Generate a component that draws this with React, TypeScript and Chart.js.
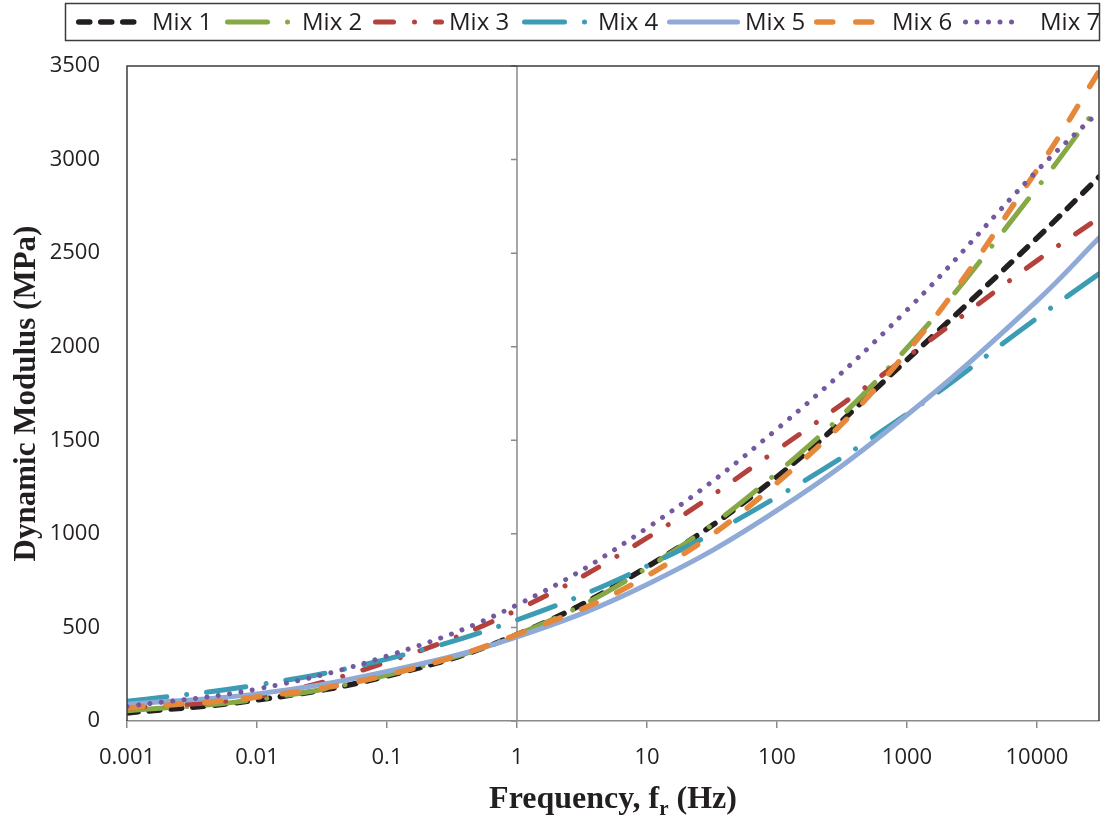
import React, { useEffect, useRef } from 'react';
import { Chart, registerables } from 'chart.js';

Chart.register(...registerables);

// ---- Data ----
const frequencies = [0.001, 0.01, 0.1, 1, 10, 100, 1000, 10000, 30000];
const mix1 = [43, 112, 240, 462, 823, 1305, 1930, 2581, 2907];
const mix2 = [55, 115, 246, 462, 818, 1325, 1993, 2848, 3292];
const mix3 = [69, 130, 315, 593, 978, 1448, 1945, 2460, 2688];
const mix4 = [105, 192, 331, 540, 828, 1197, 1640, 2153, 2389];
const mix5 = [90, 145, 265, 450, 730, 1125, 1635, 2245, 2581];
const mix6 = [69, 128, 246, 462, 775, 1272, 1972, 2944, 3470];
const mix7 = [78, 171, 347, 620, 1031, 1560, 2196, 2940, 3256];
const seriesNames = ['Mix 1', 'Mix 2', 'Mix 3', 'Mix 4', 'Mix 5', 'Mix 6', 'Mix 7'];
const xTickValues = [0.001, 0.01, 0.1, 1, 10, 100, 1000, 10000];
const xTickLabels = ['0.001', '0.01', '0.1', '1', '10', '100', '1000', '10000'];
const yMin = 0;
const yMax = 3500;
const yStep = 500;
const xMin = 0.001;
const xMax = 30000;
const yTitle = 'Dynamic Modulus (MPa)';
const xTitleMain = 'Frequency, f';
const xTitleSub = 'r';
const xTitleEnd = ' (Hz)';

// ---- Styles ----
const seriesValues = [mix1, mix2, mix3, mix4, mix5, mix6, mix7];
const colors = ['#231f20', '#86a845', '#b5413d', '#3b9cb3', '#8faad6', '#e5883a', '#7458a0'];
const dashes: number[][] = [
  [11, 11],
  [40, 20, 0.001, 20],
  [18, 21, 0.001, 21],
  [40, 20, 0.001, 20],
  [],
  [16, 23],
  [0.001, 11.5],
];
const widths = [5.5, 5, 5, 5, 5, 5.5, 5];

const TEXT = '#231f20';
const AXIS_GRAY = '#8a8a8a';
const BORDER = '#3c3c3c';

const decorPlugin = {
  id: 'decor',
  beforeDatasetsDraw(chart: any) {
    const { ctx, chartArea, scales } = chart;
    const x1 = scales.x.getPixelForValue(1);
    ctx.save();
    ctx.strokeStyle = AXIS_GRAY;
    ctx.lineWidth = 1.5;
    ctx.beginPath();
    ctx.moveTo(x1, chartArea.top);
    ctx.lineTo(x1, chartArea.bottom);
    for (let v = yMin; v <= yMax; v += yStep) {
      const y = scales.y.getPixelForValue(v);
      ctx.moveTo(x1 - 6, y);
      ctx.lineTo(x1, y);
    }
    ctx.stroke();
    ctx.restore();
  },
  afterDraw(chart: any) {
    const { ctx, chartArea } = chart;
    ctx.save();
    // plot border (top, left, right)
    ctx.strokeStyle = BORDER;
    ctx.lineWidth = 1.5;
    ctx.beginPath();
    ctx.moveTo(chartArea.left, chartArea.bottom);
    ctx.lineTo(chartArea.left, chartArea.top);
    ctx.lineTo(chartArea.right, chartArea.top);
    ctx.lineTo(chartArea.right, chartArea.bottom);
    ctx.stroke();

    // legend box
    ctx.strokeStyle = BORDER;
    ctx.lineWidth = 1.5;
    ctx.strokeRect(65.5, 3.5, 1034, 37);
    const sampleStart = [76, 225, 373, 522, 667, 814, 963];
    const sampleEnd = [140, 295, 444, 592, 740, 878, 1024];
    const textX = [152, 302, 449, 598, 745, 892, 1040];
    const ly = 22;
    seriesNames.forEach((name, i) => {
      ctx.save();
      ctx.beginPath();
      ctx.rect(sampleStart[i] - 1, 8, sampleEnd[i] - sampleStart[i] + 2, 28);
      ctx.clip();
      ctx.strokeStyle = colors[i];
      ctx.lineWidth = widths[i];
      ctx.lineCap = 'round';
      ctx.setLineDash(dashes[i]);
      ctx.beginPath();
      ctx.moveTo(sampleStart[i] + widths[i] / 2, ly);
      ctx.lineTo(sampleEnd[i] - widths[i] / 2, ly);
      ctx.stroke();
      ctx.restore();
      ctx.fillStyle = TEXT;
      ctx.font = '24px "Open Sans"';
      ctx.textAlign = 'left';
      ctx.textBaseline = 'middle';
      ctx.fillText(name, textX[i], ly + 1);
    });

    // y title
    const cy = (chartArea.top + chartArea.bottom) / 2;
    ctx.save();
    ctx.translate(35, cy);
    ctx.rotate(-Math.PI / 2);
    ctx.font = 'bold 31px "Liberation Serif"';
    ctx.fillStyle = TEXT;
    ctx.textAlign = 'center';
    ctx.textBaseline = 'alphabetic';
    ctx.fillText(yTitle, 0, 0);
    ctx.restore();

    // x title with subscript
    const cx = (chartArea.left + chartArea.right) / 2;
    const mainFont = 'bold 32px "Liberation Serif"';
    const subFont = 'bold 21px "Liberation Serif"';
    ctx.font = mainFont;
    const w1 = ctx.measureText(xTitleMain).width;
    const w3 = ctx.measureText(xTitleEnd).width;
    ctx.font = subFont;
    const w2 = ctx.measureText(xTitleSub).width;
    const total = w1 + w2 + w3;
    let x = cx - total / 2;
    const base = 808;
    ctx.fillStyle = TEXT;
    ctx.textAlign = 'left';
    ctx.textBaseline = 'alphabetic';
    ctx.font = mainFont;
    ctx.fillText(xTitleMain, x, base);
    x += w1;
    ctx.font = subFont;
    ctx.fillText(xTitleSub, x, base + 7);
    x += w2;
    ctx.font = mainFont;
    ctx.fillText(xTitleEnd, x, base);
    ctx.restore();
  },
};

export default function App() {
  const canvasRef = useRef<HTMLCanvasElement | null>(null);

  useEffect(() => {
    const canvas = canvasRef.current;
    if (!canvas) return;
    const datasets = seriesNames.map((name, i) => ({
      label: name,
      data: frequencies.map((f, j) => ({ x: f, y: seriesValues[i][j] })),
      borderColor: colors[i],
      backgroundColor: colors[i],
      borderWidth: widths[i],
      borderDash: dashes[i],
      borderCapStyle: 'round' as const,
      borderJoinStyle: 'round' as const,
      pointRadius: 0,
      pointHoverRadius: 0,
      fill: false,
      tension: 0.4,
      order: seriesNames.length - i,
    }));

    const chart = new Chart(canvas, {
      type: 'line',
      data: { datasets },
      options: {
        animation: false,
        responsive: false,
        devicePixelRatio: 1,
        layout: { padding: { left: 0, top: 66, right: 3, bottom: 0 } },
        plugins: {
          legend: { display: false },
          tooltip: { enabled: false },
          title: { display: false },
        },
        scales: {
          x: {
            type: 'logarithmic',
            min: xMin,
            max: xMax,
            bounds: 'data',
            afterBuildTicks: (scale: any) => {
              scale.ticks = xTickValues.map((v) => ({ value: v }));
            },
            afterFit: (scale: any) => {
              scale.height = 97;
            },
            ticks: {
              autoSkip: false,
              maxRotation: 0,
              minRotation: 0,
              padding: 17,
              color: TEXT,
              font: { family: 'Open Sans', size: 22 },
              callback: (value: any) => {
                const idx = xTickValues.findIndex((v) => Math.abs(v - Number(value)) / v < 1e-6);
                return idx >= 0 ? xTickLabels[idx] : '';
              },
            },
            grid: {
              display: true,
              drawOnChartArea: false,
              drawTicks: true,
              tickLength: 7,
              color: AXIS_GRAY,
              lineWidth: 1.5,
            },
            border: { display: true, color: AXIS_GRAY, width: 1.5 },
          },
          y: {
            type: 'linear',
            min: yMin,
            max: yMax,
            afterFit: (scale: any) => {
              scale.width = 127;
            },
            ticks: {
              stepSize: yStep,
              padding: 27,
              color: TEXT,
              font: { family: 'Open Sans', size: 22 },
              callback: (value: any) => String(value),
            },
            grid: { display: false, drawTicks: false },
            border: { display: false },
          },
        },
      },
      plugins: [decorPlugin],
    });

    return () => {
      chart.destroy();
    };
  }, []);

  return (
    <div style={{ position: 'absolute', left: 0, top: 0, width: 1102, height: 818, background: '#fff' }}>
      <canvas ref={canvasRef} width={1102} height={818} style={{ display: 'block' }} />
    </div>
  );
}
